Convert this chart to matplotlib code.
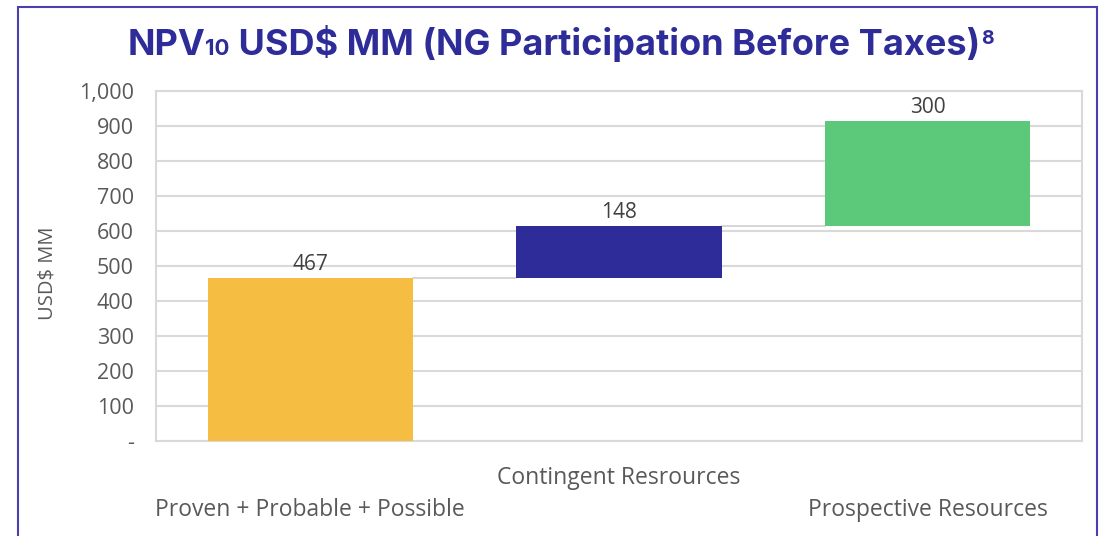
import matplotlib
matplotlib.use("Agg")
import matplotlib.pyplot as plt
from matplotlib.patches import Rectangle
import numpy as np

categories = ["Proven + Probable + Possible", "Contingent Resrources", "Prospective Resources"]
values = [467, 148, 300]
colors = ["#F5BD41", "#2E2C98", "#5CC97A"]
yticks = [0, 100, 200, 300, 400, 500, 600, 700, 800, 900, 1000]
yticklabels = ["-", "100", "200", "300", "400", "500", "600", "700", "800", "900", "1,000"]

W, H = 1101, 536
fig = plt.figure(figsize=(W / 100, H / 100), dpi=100)
fig.patch.set_facecolor("white")

ax = fig.add_axes([156 / W, 1 - 441 / H, (1082 - 156) / W, (441 - 91) / H])
bottoms = np.concatenate([[0], np.cumsum(values)[:-1]])
x = np.arange(len(values))
bw = 0.665
ax.bar(x, values, bottom=bottoms, width=bw, color=colors, zorder=3)
for i in range(len(values)):
    top = bottoms[i] + values[i]
    ax.text(x[i], top + 8, f"{values[i]}", ha="center", va="bottom",
            fontsize=15, color="#404040", family="Open Sans", zorder=4)
    if i < len(values) - 1:
        ax.plot([x[i] + bw / 2, x[i + 1] - bw / 2], [top, top], color="#D0D0D0", lw=1.2, zorder=2)

ax.set_xlim(-0.5, len(values) - 0.5)
ax.set_ylim(0, 1000)
ax.set_yticks(yticks)
ax.set_yticklabels(yticklabels, fontsize=15.5, color="#595959", family="Open Sans")
ax.tick_params(axis="y", length=0, pad=16)
ax.set_xticks([])
ax.grid(axis="y", color="#D9D9D9", lw=1.5, zorder=0)
for s in ax.spines.values():
    s.set_color("#D9D9D9")
    s.set_linewidth(1.5)

ax.set_ylabel("USD$ MM", fontsize=14.5, color="#595959", family="Open Sans")
ax.yaxis.set_label_coords(-0.106, 0.48)

# staggered category labels
label_y = [510, 478, 510]
for i, c in enumerate(categories):
    xd = ax.transData.transform((x[i], 0))[0]
    fig.text(xd / W, 1 - label_y[i] / H, c, ha="center", va="center",
             fontsize=16.5, color="#595959", family="Open Sans")

# frame
fig.patches.append(Rectangle((18 / W, -0.1), (1097 - 18) / W, 1.1 - 7 / H,
                             transform=fig.transFigure, fill=False,
                             edgecolor="#4B3FB0", lw=1.5, zorder=0))

# title in pieces
tc = "#2E2C98"
fig.canvas.draw()
r = fig.canvas.get_renderer()
pieces = [("NPV", 26, 0), ("10", 16, 0), (" USD$ MM (NG Participation Before Taxes)", 26, 0), ("8", 14, 11)]
ty = 1 - 55 / H
texts = []
total = 0
for s, fs, dy in pieces:
    t = fig.text(0, ty + dy / H, s, fontsize=fs, color=tc, family="Inter", weight="bold",
                 ha="left", va="baseline")
    bb = t.get_window_extent(r)
    texts.append((t, bb.width))
    total += bb.width
cx = 560 - total / 2
for i, (t, w) in enumerate(texts):
    if i == 3:
        cx += 1
    t.set_x(cx / W)
    cx += w

fig.savefig("out.png", dpi=100)
